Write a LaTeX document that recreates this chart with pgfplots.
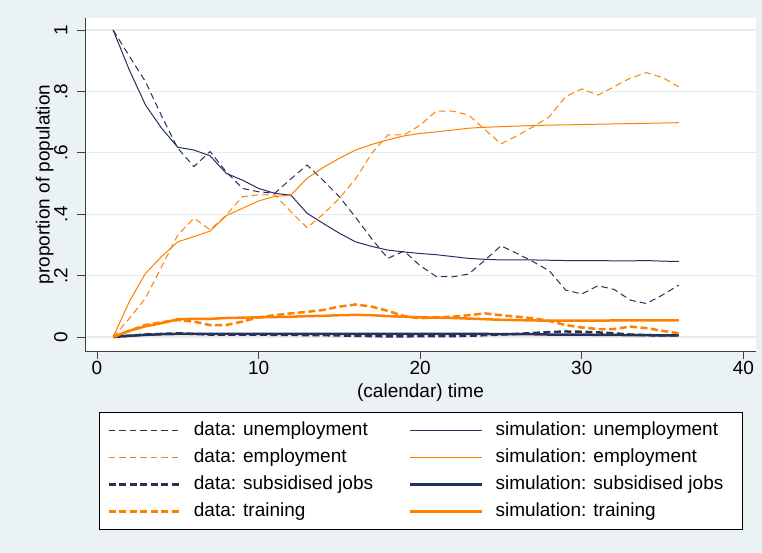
\documentclass[border=0pt]{standalone}
\usepackage{fontspec}
\setmainfont{Liberation Sans}
\usepackage{pgfplots}
\usepackage{pgfplotstable}
\pgfplotsset{compat=1.18}
\definecolor{bgc}{HTML}{EAF2F3}
\definecolor{gridc}{HTML}{E4ECEE}
\definecolor{nv}{HTML}{26325A}
\definecolor{org}{HTML}{FF8000}
\newcommand\ff{\fontsize{19pt}{22pt}\selectfont}

% t du su de se ds ss dt st
\pgfplotstableread{
t du su de se ds ss dt st
1 1.000 1.000 0.000 0.000 0.000 0.000 0.000 0.000
2 0.915 0.870 0.060 0.115 0.004 0.004 0.020 0.020
3 0.832 0.756 0.126 0.207 0.008 0.007 0.039 0.035
4 0.720 0.680 0.229 0.262 0.010 0.009 0.048 0.045
5 0.615 0.618 0.332 0.310 0.012 0.010 0.055 0.058
6 0.555 0.609 0.387 0.327 0.010 0.010 0.050 0.059
7 0.604 0.590 0.349 0.345 0.008 0.010 0.039 0.059
8 0.538 0.533 0.397 0.395 0.008 0.010 0.039 0.062
9 0.484 0.511 0.457 0.419 0.008 0.010 0.050 0.063
10 0.473 0.484 0.463 0.443 0.008 0.010 0.064 0.064
11 0.468 0.468 0.463 0.458 0.007 0.010 0.071 0.065
12 0.515 0.462 0.408 0.462 0.007 0.010 0.077 0.066
13 0.560 0.403 0.356 0.517 0.006 0.010 0.082 0.068
14 0.510 0.370 0.400 0.552 0.006 0.010 0.088 0.069
15 0.457 0.338 0.452 0.582 0.005 0.010 0.099 0.071
16 0.390 0.310 0.515 0.609 0.004 0.010 0.106 0.072
17 0.320 0.295 0.598 0.627 0.003 0.010 0.099 0.071
18 0.256 0.283 0.658 0.642 0.002 0.010 0.085 0.068
19 0.280 0.277 0.658 0.655 0.002 0.010 0.068 0.066
20 0.232 0.272 0.690 0.663 0.003 0.010 0.061 0.064
21 0.197 0.268 0.736 0.668 0.003 0.010 0.064 0.063
22 0.196 0.262 0.736 0.674 0.003 0.010 0.066 0.062
23 0.205 0.256 0.723 0.680 0.004 0.010 0.071 0.060
24 0.250 0.253 0.676 0.683 0.006 0.010 0.077 0.058
25 0.297 0.251 0.629 0.685 0.008 0.009 0.071 0.056
26 0.272 0.251 0.656 0.687 0.010 0.009 0.066 0.055
27 0.245 0.251 0.685 0.689 0.013 0.009 0.061 0.054
28 0.215 0.250 0.718 0.690 0.016 0.008 0.052 0.053
29 0.153 0.249 0.783 0.691 0.018 0.008 0.039 0.053
30 0.140 0.249 0.808 0.692 0.017 0.008 0.031 0.053
31 0.167 0.249 0.788 0.693 0.015 0.007 0.026 0.053
32 0.155 0.248 0.815 0.694 0.012 0.007 0.026 0.054
33 0.120 0.248 0.843 0.695 0.008 0.006 0.034 0.054
34 0.109 0.249 0.861 0.696 0.006 0.006 0.029 0.054
35 0.137 0.247 0.845 0.697 0.005 0.005 0.020 0.054
36 0.169 0.246 0.815 0.698 0.005 0.005 0.012 0.054
}\datatab

\begin{document}
\ff
\begin{tikzpicture}
\path[use as bounding box, fill=bgc] (-85pt,-202pt) rectangle (677pt,351pt);
\begin{axis}[
  at={(0pt,0pt)}, anchor=south west,
  scale only axis, width=671pt, height=333pt,
  xmin=-0.74, xmax=40.78, ymin=-0.0456, ymax=1.039,
  axis x line*=bottom, axis y line*=left,
  axis line style={black!75, line width=0.9pt, -},
  xtick={0,10,20,30,40},
  ytick={0,0.2,0.4,0.6,0.8,1}, yticklabels={0,.2,.4,.6,.8,1},
  tick align=outside, major tick length=8pt,
  tick style={black!75, line width=0.9pt},
  ymajorgrids, grid style={gridc, line width=1.2pt},
  axis background/.style={fill=white},
  /pgf/number format/assume math mode=true,
  tick label style={font=\ff},
  xticklabel style={anchor=base, yshift=-15pt},
  yticklabel style={xshift=-9.5pt, rotate=90, anchor=base},
  label style={font=\ff},
  xlabel={(calendar) time},
  ylabel={proportion of population},
  xlabel style={at={(axis description cs:0.5,-0.1411)}, anchor=base},
  ylabel style={at={(axis description cs:-0.0526,0.5)}, anchor=base},
  legend columns=2, legend cell align=left,
  legend image code/.code={\draw[#1] (0pt,0pt) -- (72pt,0pt);},
  legend style={
    at={(axis description cs:0.5,-0.1823)}, anchor=north,
    draw=black, line width=0.8pt, fill=white,
    inner xsep=8.4pt, inner ysep=9.15pt,
    font=\ff,
    row sep=9pt,
    nodes={inner sep=0pt, text height=14pt, text depth=4pt},
    /tikz/every odd column/.append style={column sep=12pt},
    /tikz/every even column/.append style={column sep=36pt},
  },
]
\addplot[nv, line width=1pt, dash pattern=on 6.5pt off 4pt] table[x=t,y=du]{\datatab};
\addlegendentry{data: unemployment}
\addplot[nv, line width=1pt] table[x=t,y=su]{\datatab};
\addlegendentry{\makebox[238pt][l]{simulation: unemployment}}
\addplot[org, line width=1pt, dash pattern=on 6.5pt off 4pt] table[x=t,y=de]{\datatab};
\addlegendentry{data: employment}
\addplot[org, line width=1pt] table[x=t,y=se]{\datatab};
\addlegendentry{simulation: employment}
\addplot[nv, line width=2.5pt, dash pattern=on 7pt off 3.5pt] table[x=t,y=ds]{\datatab};
\addlegendentry{data: subsidised jobs}
\addplot[nv, line width=2.5pt] table[x=t,y=ss]{\datatab};
\addlegendentry{simulation: subsidised jobs}
\addplot[org, line width=2.5pt, dash pattern=on 7pt off 3.5pt] table[x=t,y=dt]{\datatab};
\addlegendentry{data: training}
\addplot[org, line width=2.5pt] table[x=t,y=st]{\datatab};
\addlegendentry{simulation: training}
\end{axis}
\end{tikzpicture}
\end{document}
